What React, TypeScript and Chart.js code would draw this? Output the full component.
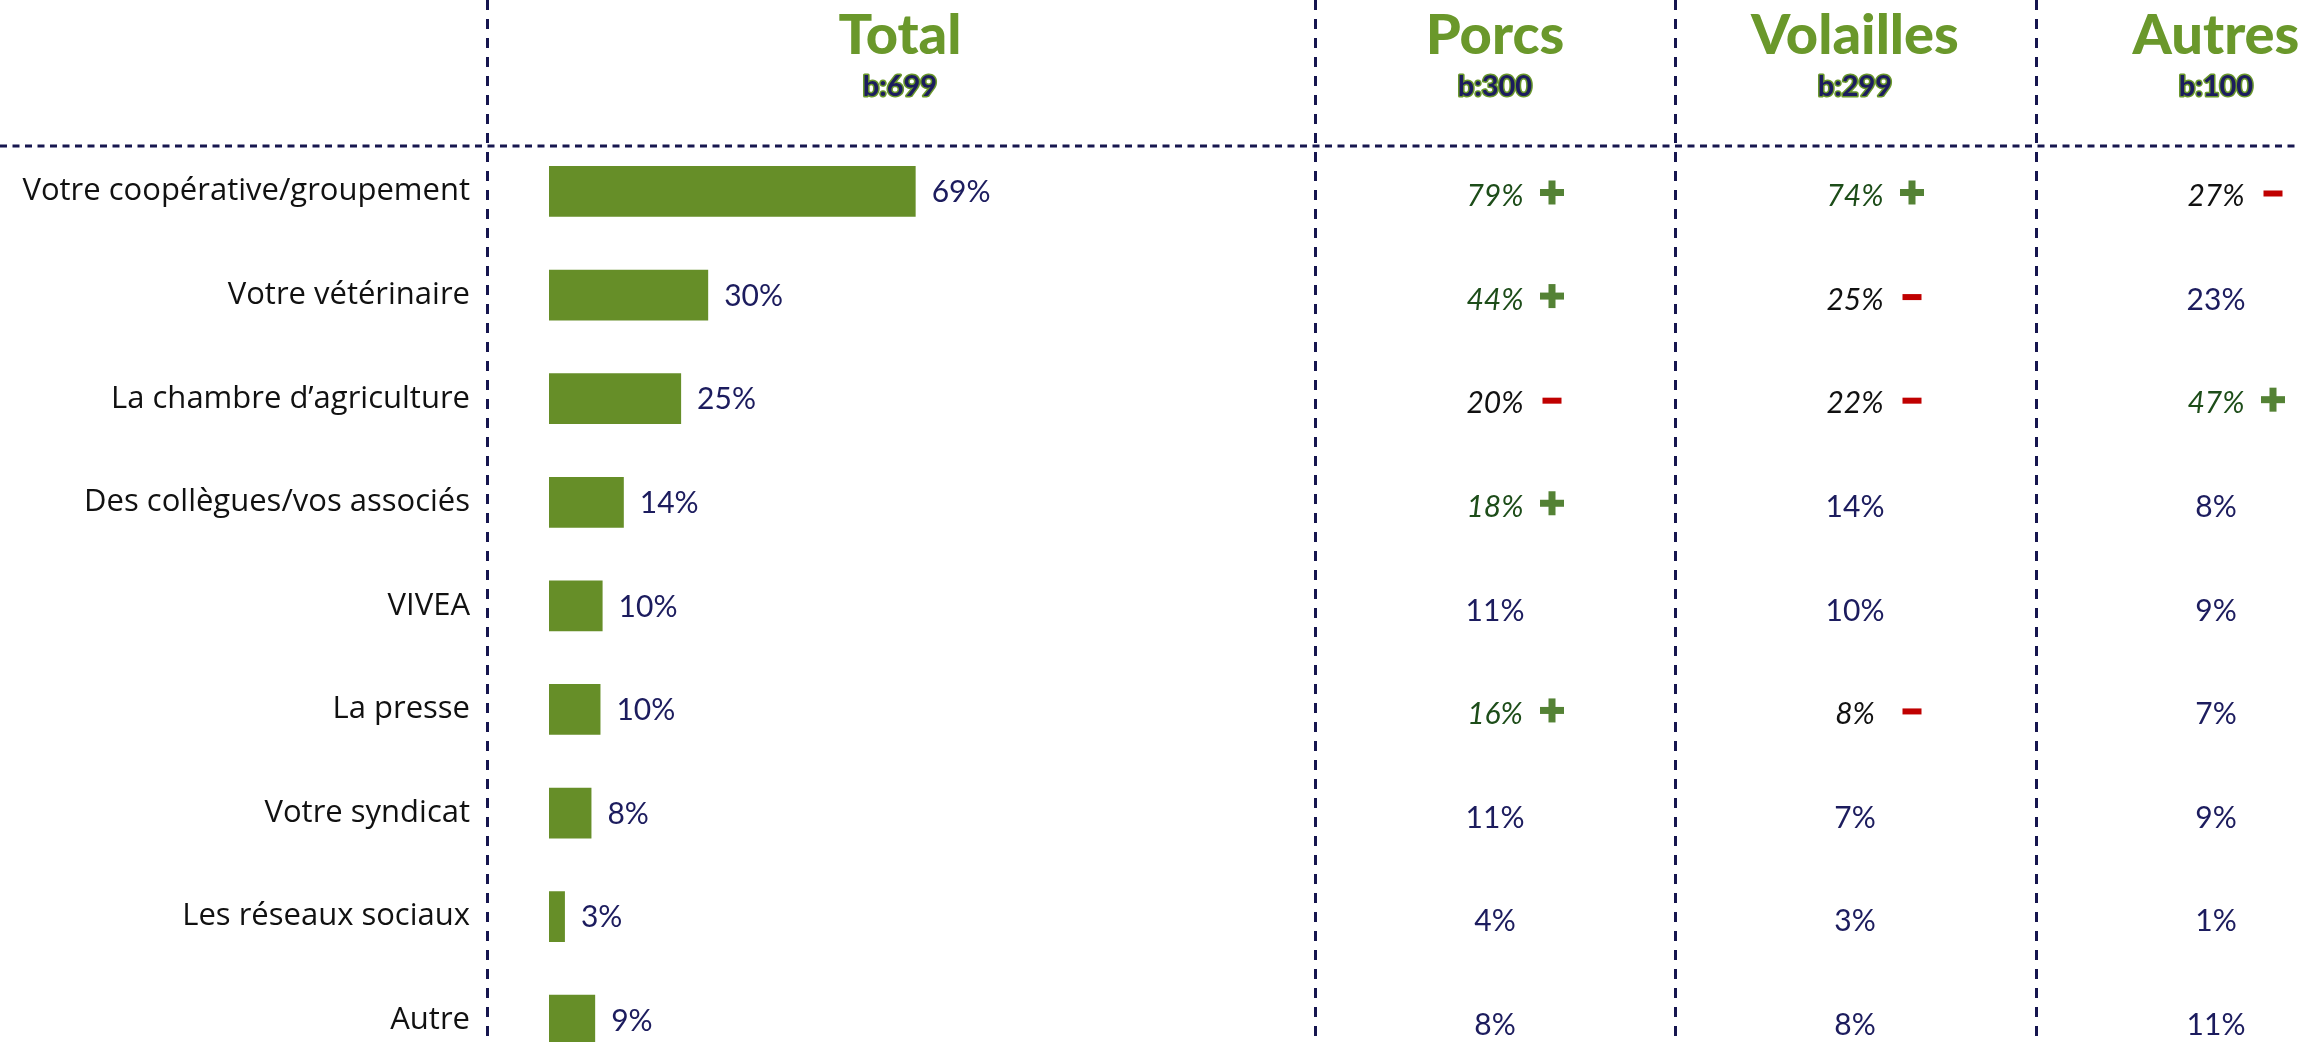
import React, { useEffect, useRef } from "react";
import { Chart, registerables } from "chart.js";

Chart.register(...registerables);

// ---------- data ----------
const categories = [
  "Votre coopérative/groupement",
  "Votre vétérinaire",
  "La chambre d’agriculture",
  "Des collègues/vos associés",
  "VIVEA",
  "La presse",
  "Votre syndicat",
  "Les réseaux sociaux",
  "Autre",
];
const totalValues = [69.1, 30.0, 24.9, 14.1, 10.1, 9.7, 8.0, 3.0, 8.7];

const columnNames = ["Total", "Porcs", "Volailles", "Autres"];
const baseSizes = ["b:699", "b:300", "b:299", "b:100"];

const porcsValues = [79, 44, 20, 18, 11, 16, 11, 4, 8];
const porcsSig = ["+", "+", "-", "+", "", "+", "", "", ""];
const volaillesValues = [74, 25, 22, 14, 10, 8, 7, 3, 8];
const volaillesSig = ["+", "-", "-", "", "", "-", "", "", ""];
const autresValues = [27, 23, 47, 8, 9, 7, 9, 1, 11];
const autresSig = ["-", "", "+", "", "", "", "", "", ""];

// ---------- layout / style ----------
const W = 2300;
const H = 1080;
const DIVIDERS = [487.5, 1315.5, 1675.5, 2036.5];
const HEADER_LINE_Y = 146;
const COL_CENTERS = [900, 1495, 1855, 2216];
const LINE_COLOR = "#16164f";
const GREEN_BAR = "#668e28";
const GREEN_TITLE = "#6a982b";
const NAVY = "#1c1c5e";
const SIG_PLUS_TEXT = "#1d4d19";
const PLUS_COLOR = "#548235";
const MINUS_COLOR = "#c00000";
const FONT = "Lato";
const LABEL_FONT = "'Open Sans'";

const tablePlugin = {
  id: "tablePlugin",
  afterDatasetsDraw(chart: any) {
    const ctx: CanvasRenderingContext2D = chart.ctx;
    const yScale = chart.scales.y;
    ctx.save();

    // dashed grid lines
    ctx.strokeStyle = LINE_COLOR;
    ctx.lineWidth = 3;
    ctx.setLineDash([10, 9]);
    DIVIDERS.forEach((x) => {
      ctx.beginPath();
      ctx.moveTo(x, 0);
      ctx.lineTo(x, H);
      ctx.stroke();
    });
    ctx.setLineDash([7, 5.5]);
    ctx.beginPath();
    ctx.moveTo(0, HEADER_LINE_Y);
    ctx.lineTo(W, HEADER_LINE_Y);
    ctx.stroke();
    ctx.setLineDash([]);

    // headers
    ctx.textAlign = "center";
    ctx.textBaseline = "middle";
    columnNames.forEach((name, i) => {
      const cx = COL_CENTERS[i];
      ctx.font = `900 56px ${FONT}`;
      ctx.fillStyle = GREEN_TITLE;
      ctx.fillText(name, cx, 36);

      ctx.font = `bold 29px ${FONT}`;
      ctx.lineJoin = "round";
      ctx.lineWidth = 3;
      ctx.strokeStyle = GREEN_TITLE;
      ctx.strokeText(baseSizes[i], cx, 87);
      ctx.fillStyle = NAVY;
      ctx.fillText(baseSizes[i], cx, 87);
    });

    // bar value labels
    const meta = chart.getDatasetMeta(0);
    ctx.textAlign = "left";
    ctx.font = `30px ${FONT}`;
    ctx.fillStyle = NAVY;
    meta.data.forEach((bar: any, i: number) => {
      ctx.fillText(`${Math.round(totalValues[i])}%`, bar.x + 16, bar.y + 1);
    });

    // other columns
    const cols = [
      { values: porcsValues, sig: porcsSig },
      { values: volaillesValues, sig: volaillesSig },
      { values: autresValues, sig: autresSig },
    ];
    ctx.textAlign = "center";
    cols.forEach((col, c) => {
      const cx = COL_CENTERS[c + 1];
      col.values.forEach((v, i) => {
        const y = yScale.getPixelForTick(i) + 5;
        const s = col.sig[i];
        if (s === "+") {
          ctx.font = `italic 30px ${FONT}`;
          ctx.fillStyle = SIG_PLUS_TEXT;
        } else if (s === "-") {
          ctx.font = `italic 30px ${FONT}`;
          ctx.fillStyle = "#111111";
        } else {
          ctx.font = `30px ${FONT}`;
          ctx.fillStyle = NAVY;
        }
        ctx.fillText(`${v}%`, cx, y);
        const sx = cx + 57;
        if (s === "+") {
          ctx.fillStyle = PLUS_COLOR;
          ctx.fillRect(sx - 12, y - 4 - 3.5, 24, 7);
          ctx.fillRect(sx - 3.5, y - 4 - 12, 7, 24);
        } else if (s === "-") {
          ctx.fillStyle = MINUS_COLOR;
          ctx.fillRect(sx - 9.5, y - 3 - 3, 19, 6);
        }
      });
    });

    ctx.restore();
  },
};

export default function App() {
  const canvasRef = useRef<HTMLCanvasElement | null>(null);

  useEffect(() => {
    const canvas = canvasRef.current;
    if (!canvas) return;
    const chart = new Chart(canvas, {
      type: "bar",
      data: {
        labels: categories,
        datasets: [
          {
            data: totalValues,
            backgroundColor: GREEN_BAR,
            barPercentage: 0.49,
            categoryPercentage: 1,
          },
        ],
      },
      options: {
        indexAxis: "y",
        responsive: true,
        maintainAspectRatio: false,
        animation: false,
        devicePixelRatio: 1,
        layout: { padding: { top: 139.7, bottom: 8, left: 0, right: 0 } },
        plugins: {
          legend: { display: false },
          tooltip: { enabled: false },
        },
        scales: {
          x: { display: false, min: 0, max: 330 },
          y: {
            grid: { display: false, drawTicks: false },
            border: { display: false },
            ticks: {
              font: { family: LABEL_FONT, size: 31 },
              color: "#111111",
              padding: 79,
            },
            afterFit: (scale: any) => {
              scale.width = 549;
              scale.paddingTop = 0;
              scale.paddingBottom = 0;
            },
          },
        },
      } as any,
      plugins: [tablePlugin],
    });
    return () => chart.destroy();
  }, []);

  return (
    <div
      style={{
        position: "fixed",
        left: 0,
        top: 0,
        width: W,
        height: 1042,
        overflow: "hidden",
        background: "#ffffff",
      }}
    >
      <div style={{ position: "relative", width: W, height: H }}>
        <canvas ref={canvasRef} />
      </div>
    </div>
  );
}
